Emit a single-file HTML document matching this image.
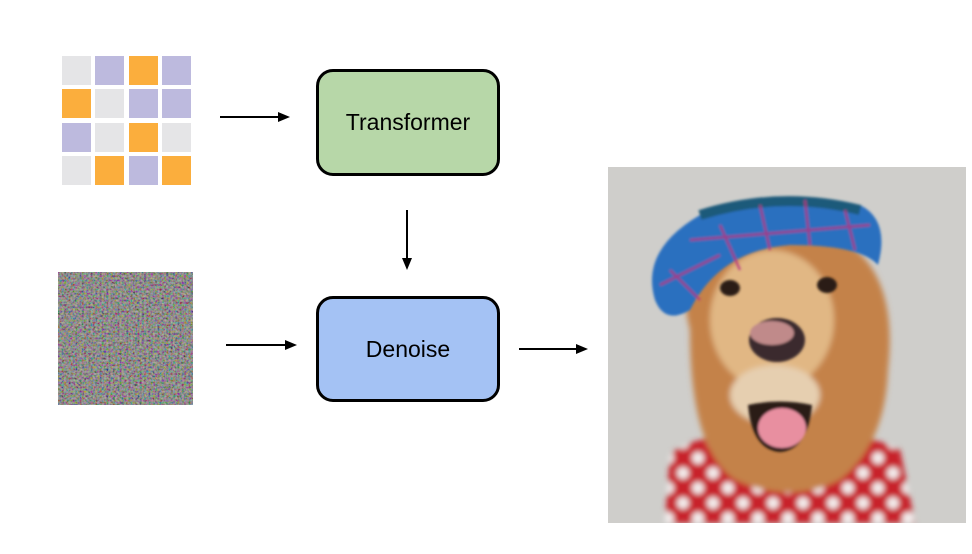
<!DOCTYPE html>
<html><head><meta charset="utf-8"><style>
html,body{margin:0;padding:0;background:#fff;}
body{width:972px;height:554px;position:relative;overflow:hidden;font-family:"Liberation Sans",Arial,sans-serif;}
.c{position:absolute;width:29px;height:29px;}
.g{background:#e5e5e7}.p{background:#bdbade}.o{background:#fbae3d}
.box{position:absolute;box-sizing:border-box;border:3px solid #000;border-radius:17px;display:flex;align-items:center;justify-content:center;font-size:23px;color:#000;}
</style></head><body>
<div class="c g" style="left:62px;top:56px"></div><div class="c p" style="left:95px;top:56px"></div><div class="c o" style="left:129px;top:56px"></div><div class="c p" style="left:162px;top:56px"></div>
<div class="c o" style="left:62px;top:89px"></div><div class="c g" style="left:95px;top:89px"></div><div class="c p" style="left:129px;top:89px"></div><div class="c p" style="left:162px;top:89px"></div>
<div class="c p" style="left:62px;top:123px"></div><div class="c g" style="left:95px;top:123px"></div><div class="c o" style="left:129px;top:123px"></div><div class="c g" style="left:162px;top:123px"></div>
<div class="c g" style="left:62px;top:156px"></div><div class="c o" style="left:95px;top:156px"></div><div class="c p" style="left:129px;top:156px"></div><div class="c o" style="left:162px;top:156px"></div>

<div class="box" style="left:316px;top:69px;width:184px;height:107px;background:#b7d7a8;">Transformer</div>
<div class="box" style="left:316px;top:296px;width:184px;height:106px;background:#a4c2f4;">Denoise</div>

<svg width="972" height="554" style="position:absolute;left:0;top:0">
<defs>
<filter id="n" x="0" y="0" width="100%" height="100%"><feTurbulence type="fractalNoise" baseFrequency="0.45" numOctaves="2" seed="3"/><feColorMatrix type="matrix" values="1.6 0 0 0 -0.4  0 1.6 0 0 -0.4  0 0 1.6 0 -0.4  0 0 0 0 1"/></filter>
<filter id="b"><feGaussianBlur stdDeviation="3"/></filter>
<filter id="b2"><feGaussianBlur stdDeviation="1.2"/></filter>
<pattern id="dots" width="30" height="30" patternUnits="userSpaceOnUse"><rect width="30" height="30" fill="#c8202a"/><circle cx="8" cy="8" r="6" fill="#f4eeee"/><circle cx="23" cy="23" r="6" fill="#f4eeee"/></pattern>
<clipPath id="ph"><rect x="608" y="167" width="358" height="356"/></clipPath>
</defs>
<rect x="58" y="272" width="135" height="133" fill="#6f6a66"/>
<rect x="58" y="272" width="135" height="133" filter="url(#n)" opacity="0.55"/>

<g stroke="#000" stroke-width="2" fill="#000">
<line x1="220" y1="117" x2="280" y2="117"/><polygon points="290,117 278,112 278,122" stroke="none"/>
<line x1="407" y1="210" x2="407" y2="260"/><polygon points="407,270 402,258 412,258" stroke="none"/>
<line x1="226" y1="345" x2="287" y2="345"/><polygon points="297,345 285,340 285,350" stroke="none"/>
<line x1="519" y1="349" x2="578" y2="349"/><polygon points="588,349 576,344 576,354" stroke="none"/>
</g>

<g clip-path="url(#ph)">
<rect x="608" y="167" width="358" height="356" fill="#cfcecb"/>
<g filter="url(#b)">
<path d="M665,523 L670,455 Q700,428 780,440 Q860,428 900,450 L915,523 Z" fill="url(#dots)"/>
<path d="M690,330 Q672,260 720,240 Q780,215 850,245 Q898,280 888,370 Q885,445 840,480 Q790,505 735,480 Q690,450 690,330 Z" fill="#c4824a"/>
<ellipse cx="772" cy="320" rx="62" ry="70" fill="#e1b784"/>
<ellipse cx="775" cy="395" rx="45" ry="30" fill="#e6cfb0"/>
</g>
<g filter="url(#b2)">
<ellipse cx="730" cy="288" rx="10" ry="8" fill="#2a1a12"/>
<ellipse cx="827" cy="285" rx="10" ry="8" fill="#2a1a12"/>
<ellipse cx="777" cy="340" rx="28" ry="22" fill="#3a2b2e"/>
<ellipse cx="772" cy="333" rx="22" ry="12" fill="#c08a8a"/>
<path d="M748,405 Q780,398 812,405 Q808,450 780,452 Q752,450 748,405 Z" fill="#2b1c18"/>
<ellipse cx="782" cy="428" rx="24" ry="20" fill="#e88fa0"/>
</g>
<g filter="url(#b2)">
<path d="M655,300 Q640,250 700,215 Q780,185 860,205 Q890,220 878,265 Q860,245 790,245 Q720,250 690,310 Q665,325 655,300 Z" fill="#2a6fbf"/>
<path d="M700,215 Q780,190 860,210" stroke="#1d5a7a" stroke-width="10" fill="none"/>
<g stroke="#b8307f" stroke-width="2.5" fill="none" opacity="0.8">
<line x1="670" y1="270" x2="700" y2="300"/><line x1="720" y1="225" x2="740" y2="270"/><line x1="760" y1="205" x2="770" y2="250"/><line x1="805" y1="200" x2="810" y2="245"/><line x1="845" y1="210" x2="855" y2="250"/><line x1="660" y1="285" x2="720" y2="255"/><line x1="690" y1="240" x2="870" y2="225"/>
</g>
</g>
</g>
</svg>
</body></html>
